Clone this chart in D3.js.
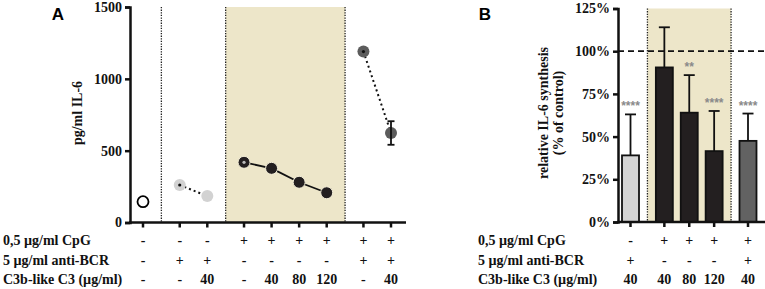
<!DOCTYPE html>
<html>
<head>
<meta charset="utf-8">
<title>IL-6</title>
<script src="https://d3js.org/d3.v7.min.js"></script>
<style>
  body { margin: 0; background: #fff; }
  .axis path, .axis line { stroke: #111; }
</style>
</head>
<body>
<svg id="chart"></svg>
<script>
// panel A: pg/ml IL-6 per condition
var aGroup = [0, 1, 1, 2, 2, 2, 2, 3, 3];
var aMean = [145, 261, 184, 419, 377, 280, 207, 1190, 623];
var aErr = [0, 6, 0, 22, 0, 0, 0, 8, 82];
var aFill = ["#fff", "#d2d2d2", "#d2d2d2", "#231f20", "#231f20", "#231f20", "#231f20", "#5c5c5c", "#5c5c5c"];
var aLinks = [[1, 2, "dot"], [3, 4, "solid"], [4, 5, "solid"], [5, 6, "solid"], [7, 8, "dot"]];
var aTicks = [0, 500, 1000, 1500];
var aCpG = ["-", "-", "-", "+", "+", "+", "+", "+", "+"];
var aBCR = ["-", "+", "+", "-", "-", "-", "-", "+", "+"];
var aC3 = ["-", "-", "40", "-", "40", "80", "120", "-", "40"];

// panel B: relative IL-6 synthesis (% of control)
var bGroup = [0, 1, 1, 1, 2];
var bMean = [39, 90.5, 64, 41.5, 47.5];
var bErr = [24, 23.5, 22, 23.5, 16];
var bStars = ["****", "", "**", "****", "****"];
var bFill = ["#d4d4d4", "#231f20", "#231f20", "#231f20", "#626262"];
var bTicks = [0, 25, 50, 75, 100, 125];
var bCpG = ["-", "+", "+", "+", "+"];
var bBCR = ["+", "-", "-", "-", "+"];
var bC3 = ["40", "40", "80", "120", "40"];

var rowNames = ["0,5  \u00b5g/ml CpG", "5 \u00b5g/ml anti-BCR", "C3b-like C3 (\u00b5g/ml)"];
var rowY = [240, 260, 279];

var W = 765, H = 289;
var serif = "'Liberation Serif', 'Times New Roman', serif";
var sans = "'Liberation Sans', Arial, sans-serif";
var svg = d3.select("#chart").attr("width", W).attr("height", H);
var shade = "#ede6c9";

function slots(groups, gap) {
  return groups.map(function (g, i) { return i + g * gap; });
}
function txt(sel, size) {
  return sel.style("font-family", serif).style("font-weight", "bold")
    .style("font-size", size + "px").style("fill", "#111");
}

// ---------- panel A ----------
var aSlot = slots(aGroup, 0.333);
var ax = d3.scaleLinear().domain([0, d3.max(aSlot)]).range([143, 391]);
var ay = d3.scaleLinear().domain([0, 1500]).range([222.5, 7]);
var A = svg.append("g");

function gapAt(slot, i) { return (slot[i] + slot[i + 1]) / 2; }
var aSep = [];
for (var i = 0; i < aGroup.length - 1; i++) if (aGroup[i] != aGroup[i + 1]) aSep.push(gapAt(aSlot, i));

A.append("rect").attr("x", ax(aSep[1])).attr("y", ay(1500))
  .attr("width", ax(aSep[2]) - ax(aSep[1])).attr("height", ay(0) - ay(1500)).attr("fill", shade);
aSep.forEach(function (s) {
  A.append("line").attr("x1", ax(s)).attr("x2", ax(s)).attr("y1", ay(1500)).attr("y2", ay(0))
    .attr("stroke", "#222").attr("stroke-width", 1.3).attr("stroke-dasharray", "1.3,1.3");
});

aLinks.forEach(function (l) {
  A.append("line").attr("x1", ax(aSlot[l[0]])).attr("y1", ay(aMean[l[0]]))
    .attr("x2", ax(aSlot[l[1]])).attr("y2", ay(aMean[l[1]]))
    .attr("stroke", "#111").attr("stroke-width", l[2] == "dot" ? 2 : 1.8)
    .attr("stroke-dasharray", l[2] == "dot" ? "2,3" : null);
});

A.selectAll("circle.pt").data(aMean).enter().append("circle")
  .attr("cx", function (d, i) { return ax(aSlot[i]); })
  .attr("cy", function (d) { return ay(d); })
  .attr("r", function (d, i) { return i == 0 ? 5.5 : 6; })
  .attr("fill", function (d, i) { return aFill[i]; })
  .attr("stroke", function (d, i) { return i == 0 ? "#000" : (i >= 3 && i <= 6 ? "#f3eed8" : "none"); })
  .attr("stroke-width", function (d, i) { return i == 0 ? 1.8 : 1; });

aMean.forEach(function (m, i) {
  if (!aErr[i]) return;
  var x = ax(aSlot[i]);
  if (aErr[i] < 40) {
    // error bar hidden inside the symbol: shows as a dot
    A.append("circle").attr("cx", x).attr("cy", ay(m)).attr("r", 1.6)
      .attr("fill", i == 3 ? "#bbb" : "#111");
    return;
  }
  A.append("line").attr("x1", x).attr("x2", x).attr("y1", ay(m - aErr[i])).attr("y2", ay(m + aErr[i]))
    .attr("stroke", "#111").attr("stroke-width", 1.8);
  [m - aErr[i], m + aErr[i]].forEach(function (v) {
    A.append("line").attr("x1", x - 3.5).attr("x2", x + 3.5).attr("y1", ay(v)).attr("y2", ay(v))
      .attr("stroke", "#111").attr("stroke-width", 1.8);
  });
});

A.append("g").attr("class", "axis").attr("transform", "translate(130,0)")
  .call(d3.axisLeft(ay).tickValues(aTicks).tickSize(5).tickPadding(3).tickFormat(d3.format("d")))
  .call(function (g) {
    g.select(".domain").attr("stroke-width", 2.5);
    g.selectAll(".tick line").attr("stroke-width", 2.5);
    txt(g.selectAll("text"), 14);
  });
A.append("line").attr("x1", 129).attr("x2", 406).attr("y1", ay(0)).attr("y2", ay(0))
  .attr("stroke", "#111").attr("stroke-width", 2.5);
A.selectAll("line.xt").data(aSlot).enter().append("line")
  .attr("x1", function (d) { return ax(d); }).attr("x2", function (d) { return ax(d); })
  .attr("y1", ay(0)).attr("y2", ay(0) + 5).attr("stroke", "#111").attr("stroke-width", 2.5);

txt(A.append("text").attr("transform", "translate(82,113) rotate(-90)")
  .attr("text-anchor", "middle"), 14).text("pg/ml IL-6");
A.append("text").attr("x", 58).attr("y", 20).attr("text-anchor", "middle")
  .style("font-family", sans).style("font-weight", "bold").style("font-size", "17px").text("A");

function table(g, x, slot, rows, labelX) {
  rows.forEach(function (r, k) {
    txt(g.append("text").attr("x", labelX).attr("y", rowY[k]).attr("dominant-baseline", "central"), 14)
      .text(rowNames[k]);
    txt(g.selectAll(null).data(r).enter().append("text")
      .attr("x", function (d, i) { return x(slot[i]); })
      .attr("y", rowY[k]).attr("dominant-baseline", "central").attr("text-anchor", "middle"), 14)
      .text(function (d) { return d; });
  });
}
table(A, ax, aSlot, [aCpG, aBCR, aC3], 3);

// ---------- panel B ----------
var bSlot = slots(bGroup, 0.36);
var bx = d3.scaleLinear().domain([0, d3.max(bSlot)]).range([630.5, 748]);
var by = d3.scaleLinear().domain([0, 125]).range([222, 8.5]);
var B = svg.append("g");
var bSep = [];
for (var j = 0; j < bGroup.length - 1; j++) if (bGroup[j] != bGroup[j + 1]) bSep.push(gapAt(bSlot, j));

B.append("rect").attr("x", bx(bSep[0])).attr("y", by(125))
  .attr("width", bx(bSep[1]) - bx(bSep[0])).attr("height", by(0) - by(125)).attr("fill", shade);
bSep.forEach(function (s) {
  B.append("line").attr("x1", bx(s)).attr("x2", bx(s)).attr("y1", by(125)).attr("y2", by(0))
    .attr("stroke", "#222").attr("stroke-width", 1.3).attr("stroke-dasharray", "1.3,1.3");
});

B.append("line").attr("x1", 618).attr("x2", W).attr("y1", by(100)).attr("y2", by(100))
  .attr("stroke", "#111").attr("stroke-width", 1.8).attr("stroke-dasharray", "6,4");

var bw = 17;
bMean.forEach(function (m, i) {
  var x = bx(bSlot[i]);
  B.append("line").attr("x1", x).attr("x2", x).attr("y1", by(m)).attr("y2", by(m + bErr[i]))
    .attr("stroke", "#111").attr("stroke-width", 1.8);
  B.append("line").attr("x1", x - 5.5).attr("x2", x + 5.5).attr("y1", by(m + bErr[i])).attr("y2", by(m + bErr[i]))
    .attr("stroke", "#111").attr("stroke-width", 1.8);
  if (bStars[i]) {
    B.append("text").attr("x", x).attr("y", by(m + bErr[i]) - 4).attr("text-anchor", "middle")
      .style("font-size", "12px").style("font-weight", "bold").style("fill", "#8a8a8a")
      .style("font-family", sans).text(bStars[i]);
  }
});
B.selectAll("rect.bar").data(bMean).enter().append("rect")
  .attr("x", function (d, i) { return bx(bSlot[i]) - bw / 2; })
  .attr("y", function (d) { return by(d); })
  .attr("width", bw).attr("height", function (d) { return by(0) - by(d); })
  .attr("fill", function (d, i) { return bFill[i]; })
  .attr("stroke", "#111").attr("stroke-width", 1.8);

B.append("g").attr("class", "axis").attr("transform", "translate(618,0)")
  .call(d3.axisLeft(by).tickValues(bTicks).tickSize(5).tickPadding(3).tickFormat(function (d) { return d + "%"; }))
  .call(function (g) {
    g.select(".domain").attr("stroke-width", 2.5);
    g.selectAll(".tick line").attr("stroke-width", 2.5);
    txt(g.selectAll("text"), 14);
  });
B.append("line").attr("x1", 617).attr("x2", W).attr("y1", by(0)).attr("y2", by(0))
  .attr("stroke", "#111").attr("stroke-width", 2.5);
B.selectAll("line.xt").data(bSlot).enter().append("line")
  .attr("x1", function (d) { return bx(d); }).attr("x2", function (d) { return bx(d); })
  .attr("y1", by(0)).attr("y2", by(0) + 5).attr("stroke", "#111").attr("stroke-width", 2.5);

var bl = txt(B.append("text").attr("transform", "translate(548,113) rotate(-90)")
  .attr("text-anchor", "middle"), 14);
bl.append("tspan").attr("x", 0).attr("dy", 0).text("relative IL-6 synthesis");
bl.append("tspan").attr("x", 0).attr("dy", 15).text("(% of control)");
B.append("text").attr("x", 485).attr("y", 20).attr("text-anchor", "middle")
  .style("font-family", sans).style("font-weight", "bold").style("font-size", "17px").text("B");

table(B, bx, bSlot, [bCpG, bBCR, bC3], 478);
</script>
</body>
</html>
